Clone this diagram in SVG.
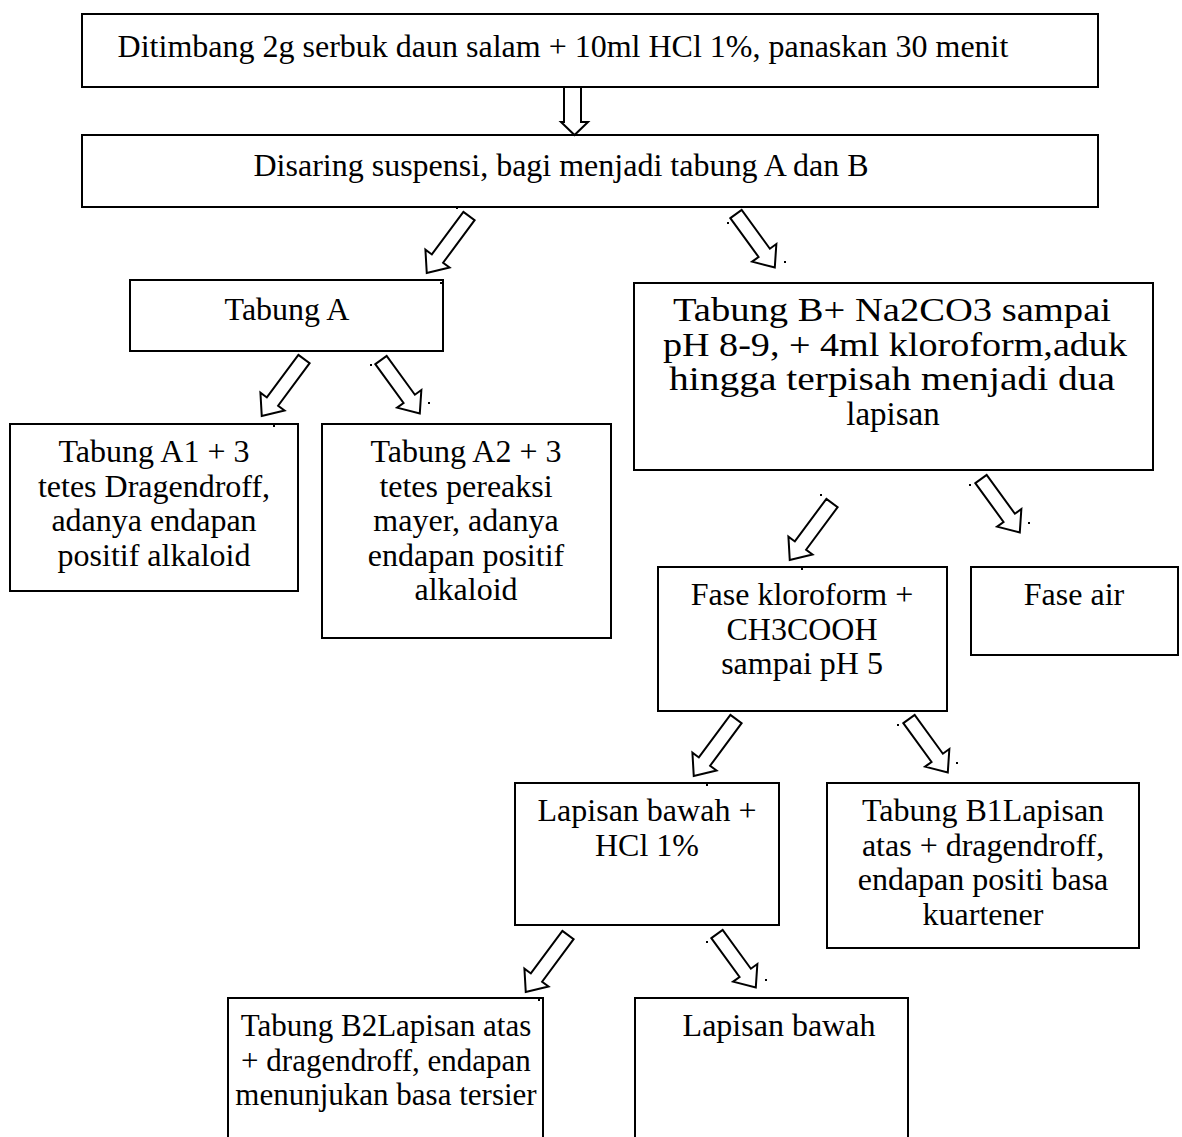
<svg xmlns="http://www.w3.org/2000/svg" xmlns:xlink="http://www.w3.org/1999/xlink" width="1182" height="1137" viewBox="0 0 1182 1137">
<style>
.box{fill:#fff;stroke:#000;stroke-width:2}
.open{fill:none;stroke:#000;stroke-width:2}
.t{font-family:"Liberation Serif","Times New Roman",serif;font-size:32px;fill:#000;text-anchor:middle}
.tb{font-size:33px}
.ts{font-size:31px}
.arr{fill:#fff;stroke:#000;stroke-width:2;stroke-linejoin:miter}
.dot{fill:#000}
</style>
<defs>
<polygon id="arrL" points="-7,0 7,0 7,53 15,53 0,71 -15,53 -7,53"/>
<polygon id="arrR" points="-7,0 7,0 7,48 15,48 0,66 -15,48 -7,48"/>
</defs>
<rect width="1182" height="1137" fill="#fff"/>
<g id="n1"><rect class="box" x="82" y="14" width="1016" height="73"/><text class="t" x="563" y="57">Ditimbang 2g serbuk daun salam + 10ml HCl 1%, panaskan 30 menit</text></g>
<g id="n2"><rect class="box" x="82" y="135" width="1016" height="72"/><text class="t" x="561" y="176">Disaring suspensi, bagi menjadi tabung A dan B</text></g>
<g id="tabA"><rect class="box" x="130" y="280" width="313" height="71"/><text class="t" x="287" y="320">Tabung A</text></g>
<g id="tabB"><rect class="box" x="634" y="283" width="519" height="187"/><text class="t tb" x="892" y="321" textLength="438" lengthAdjust="spacingAndGlyphs">Tabung B+ Na2CO3 sampai</text><text class="t tb" x="895" y="356" textLength="464" lengthAdjust="spacingAndGlyphs">pH 8-9, + 4ml kloroform,aduk</text><text class="t tb" x="892" y="390" textLength="446" lengthAdjust="spacingAndGlyphs">hingga terpisah menjadi dua</text><text class="t tb" x="893" y="425">lapisan</text></g>
<g id="a1"><rect class="box" x="10" y="424" width="288" height="167"/><text class="t" x="154" y="462">Tabung A1 + 3</text><text class="t" x="154" y="497">tetes Dragendroff,</text><text class="t" x="154" y="531">adanya endapan</text><text class="t" x="154" y="566">positif alkaloid</text></g>
<g id="a2"><rect class="box" x="322" y="424" width="289" height="214"/><text class="t" x="466" y="462">Tabung A2 + 3</text><text class="t" x="466" y="497">tetes pereaksi</text><text class="t" x="466" y="531">mayer, adanya</text><text class="t" x="466" y="566">endapan positif</text><text class="t" x="466" y="600">alkaloid</text></g>
<g id="fk"><rect class="box" x="658" y="567" width="289" height="144"/><text class="t" x="802" y="605">Fase kloroform +</text><text class="t" x="802" y="640">CH3COOH</text><text class="t" x="802" y="674">sampai pH 5</text></g>
<g id="fa"><rect class="box" x="971" y="567" width="207" height="88"/><text class="t" x="1074" y="605">Fase air</text></g>
<g id="lb"><rect class="box" x="515" y="783" width="264" height="142"/><text class="t" x="647" y="821">Lapisan bawah +</text><text class="t" x="647" y="856">HCl 1%</text></g>
<g id="b1"><rect class="box" x="827" y="783" width="312" height="165"/><text class="t" x="983" y="821">Tabung B1Lapisan</text><text class="t" x="983" y="856">atas + dragendroff,</text><text class="t" x="983" y="890">endapan positi basa</text><text class="t" x="983" y="925">kuartener</text></g>
<g id="b2"><path class="open" d="M228,1140 V998 H543 V1140"/><text class="t ts" x="386" y="1036">Tabung B2Lapisan atas</text><text class="t ts" x="386" y="1071">+ dragendroff, endapan</text><text class="t ts" x="386" y="1105">menunjukan basa tersier</text></g>
<g id="lbw"><path class="open" d="M635,1140 V998 H908 V1140"/><text class="t" x="779" y="1036">Lapisan bawah</text></g>
<g id="connectors">
<polygon class="arr" points="564,87 581,87 581,122 588,122 574.5,135 561,122 564,122"/>
<use xlink:href="#arrL" class="arr" transform="translate(469,216) rotate(36.5)"/>
<use xlink:href="#arrL" class="arr" transform="translate(304,359) rotate(36.5)"/>
<use xlink:href="#arrL" class="arr" transform="translate(832,503) rotate(36.5)"/>
<use xlink:href="#arrL" class="arr" transform="translate(736,719) rotate(36.5)"/>
<use xlink:href="#arrL" class="arr" transform="translate(568,935) rotate(36.5)"/>
<use xlink:href="#arrR" class="arr" transform="translate(736,214) rotate(-36)"/>
<use xlink:href="#arrR" class="arr" transform="translate(381,360) rotate(-36)"/>
<use xlink:href="#arrR" class="arr" transform="translate(981,479) rotate(-36)"/>
<use xlink:href="#arrR" class="arr" transform="translate(909,719) rotate(-36)"/>
<use xlink:href="#arrR" class="arr" transform="translate(717,934) rotate(-36)"/>
</g>
<g id="specks" class="dot">
<rect x="456" y="207" width="2" height="2"/><rect x="727" y="222" width="2" height="2"/><rect x="784" y="261" width="2" height="2"/>
<rect x="370" y="364" width="2" height="2"/><rect x="428" y="402" width="2" height="2"/><rect x="273" y="425" width="2" height="2"/>
<rect x="820" y="494" width="2" height="2"/><rect x="969" y="484" width="2" height="2"/><rect x="1028" y="522" width="2" height="2"/>
<rect x="801" y="568" width="2" height="2"/><rect x="897" y="724" width="2" height="2"/><rect x="956" y="762" width="2" height="2"/>
<rect x="706" y="784" width="2" height="2"/><rect x="706" y="941" width="2" height="2"/><rect x="765" y="979" width="2" height="2"/>
<rect x="538" y="999" width="2" height="2"/><rect x="440" y="282" width="2" height="2"/>
</g>
</svg>
